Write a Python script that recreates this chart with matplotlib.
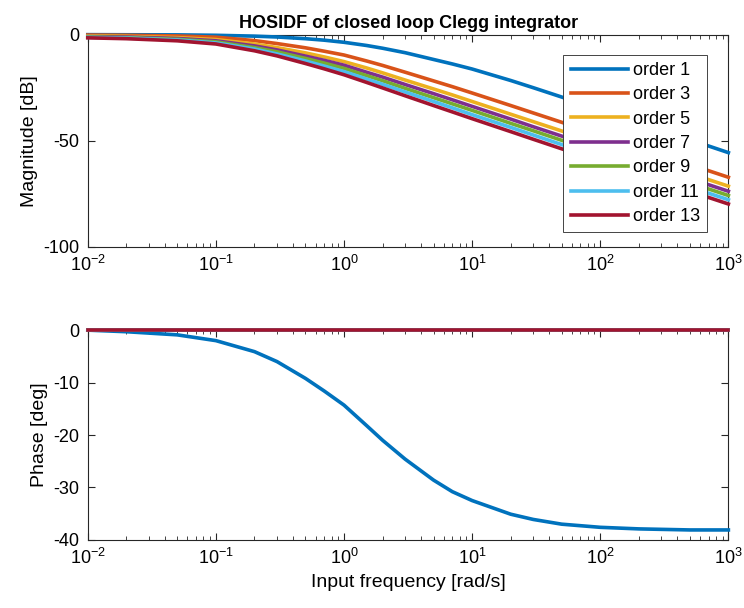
import numpy as np
import matplotlib
matplotlib.use("Agg")
import matplotlib.pyplot as plt

plt.rcParams['font.family'] = ['Liberation Sans', 'DejaVu Sans']
plt.rcParams['mathtext.default'] = 'regular'
plt.rcParams['axes.unicode_minus'] = False

# input frequencies [rad/s]
freq = [0.01, 0.02, 0.05, 0.1, 0.2, 0.3, 0.5, 0.7, 1, 1.5, 2, 3, 5, 7,
        10, 20, 30, 50, 100, 200, 500, 1000]

# HOSIDF magnitude [dB] per harmonic order
mag1 = [0, -0.05, -0.1, -0.3, -0.7, -1.1, -1.9, -2.6, -3.6, -5.1, -6.4, -8.5,
        -11.7, -13.8, -16.2, -21.6, -25.0, -29.4, -35.5, -41.5, -49.5, -55.6]
mag3 = [-0.2, -0.3, -0.6, -1.2, -2.8, -4.2, -6.2, -7.8, -9.6, -12.4, -14.5, -17.7,
        -21.8, -24.5, -27.5, -33.4, -36.9, -41.3, -47.3, -53.3, -61.2, -67.2]
mag5 = [-0.6, -0.8, -1.4, -2.3, -4.4, -6.1, -8.6, -10.5, -12.7, -15.7, -18.0, -21.4,
        -25.6, -28.4, -31.5, -37.5, -41.0, -45.4, -51.4, -57.4, -65.4, -71.4]
mag7 = [-0.9, -1.1, -1.8, -2.9, -5.3, -7.2, -10.1, -12.1, -14.4, -17.7, -20.0, -23.5,
        -27.8, -30.7, -33.8, -39.8, -43.4, -47.8, -53.8, -59.8, -67.8, -73.8]
mag9 = [-1.1, -1.4, -2.2, -3.4, -6.1, -8.1, -11.2, -13.4, -15.9, -19.3, -21.7, -25.3,
        -29.7, -32.6, -35.7, -41.8, -45.3, -49.8, -55.8, -61.8, -69.8, -75.8]
mag11 = [-1.3, -1.6, -2.5, -3.9, -6.8, -9.1, -12.4, -14.8, -17.4, -20.9, -23.4, -27.0,
         -31.5, -34.5, -37.7, -43.7, -47.3, -51.8, -57.8, -63.8, -71.8, -77.8]
mag13 = [-1.5, -1.9, -2.9, -4.4, -7.6, -10.0, -13.6, -16.1, -18.9, -22.5, -25.1, -28.8,
         -33.4, -36.4, -39.6, -45.7, -49.3, -53.8, -59.8, -65.8, -73.8, -79.8]

# HOSIDF phase [deg]; only the first harmonic moves away from zero
ph1 = [0, -0.3, -0.9, -2.0, -4.1, -6.0, -9.2, -11.6, -14.3, -18.2, -21.0, -24.6,
       -28.6, -30.8, -32.5, -35.1, -36.1, -37.0, -37.6, -37.9, -38.1, -38.1]
ph_zero = [0.0] * len(freq)

orders = [1, 3, 5, 7, 9, 11, 13]
mags = [mag1, mag3, mag5, mag7, mag9, mag11, mag13]
phases = [ph1] + [ph_zero] * 6
colors = ['#0072BD', '#D95319', '#EDB120', '#7E2F8E', '#77AC30', '#4DBEEE', '#A2142F']

fig = plt.figure(figsize=(7.44, 6.08), dpi=100)
ax1 = fig.add_axes([0.118, 0.594, 0.861, 0.349])
ax2 = fig.add_axes([0.118, 0.112, 0.861, 0.345])

for n, m, p, c in zip(orders, mags, phases, colors):
    ax1.semilogx(freq, m, color=c, lw=2.6, label='order %d' % n, clip_on=False, zorder=3)
    ax2.semilogx(freq, p, color=c, lw=2.6, clip_on=False, zorder=3)

for ax in (ax1, ax2):
    ax.set_xlim(1e-2, 1e3)
    ax.set_xticks([1e-2, 1e-1, 1e0, 1e1, 1e2, 1e3])
    ax.tick_params(which='both', direction='in', top=True, right=True,
                   labelsize=13, color='#262626', pad=6)
    ax.tick_params(which='major', length=5)
    ax.tick_params(which='minor', length=3)
    for s in ax.spines.values():
        s.set_color('#262626')
        s.set_linewidth(0.8)

ax1.set_ylim(-100, 0)
ax1.set_yticks([-100, -50, 0])
ax1.set_ylabel('Magnitude [dB]', fontsize=14)
ax1.set_title('HOSIDF of closed loop Clegg integrator', fontsize=13, fontweight='bold', pad=5)
leg = ax1.legend(loc='upper right', bbox_to_anchor=(0.967, 0.906), borderaxespad=0,
                 fontsize=13, handlelength=3.2, handletextpad=0.25, labelspacing=0.41,
                 borderpad=0.4, fancybox=False, framealpha=1)
leg.set_zorder(5)
leg.get_frame().set_edgecolor('#262626')
leg.get_frame().set_linewidth(0.6)

ax2.set_ylim(-40, 0)
ax2.set_yticks([-40, -30, -20, -10, 0])
ax2.set_ylabel('Phase [deg]', fontsize=14)
ax2.set_xlabel('Input frequency [rad/s]', fontsize=14)

fig.savefig('out.png', dpi=100)
